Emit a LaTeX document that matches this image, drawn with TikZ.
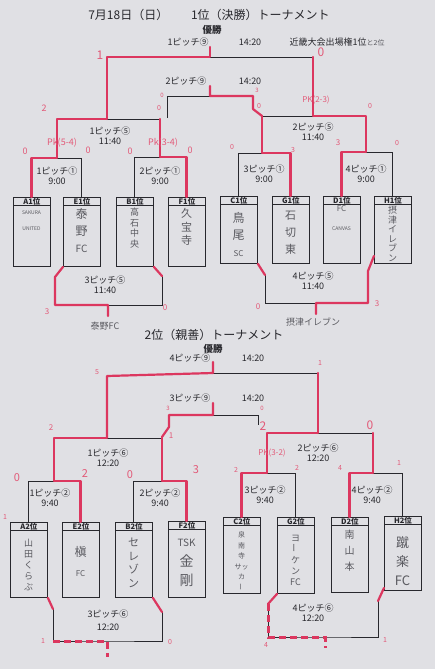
\documentclass[tikz,border=0pt]{standalone}
\usepackage{fontspec}
\setmainfont{Noto Sans CJK JP}
\usetikzlibrary{calc}
\definecolor{bg}{RGB}{224,224,228}
\definecolor{ink}{RGB}{40,40,45}
\definecolor{hred}{RGB}{220,55,95}
\definecolor{sred}{RGB}{226,90,120}
\definecolor{pencil}{RGB}{90,90,96}
\tikzset{
 bl/.style={draw=ink, line width=0.9pt},
 rl/.style={draw=hred, line width=2.2pt, line cap=round, line join=round},
 rdl/.style={draw=hred, line width=3pt, dash pattern=on 7pt off 4pt},
 tbox/.style={draw=ink, line width=0.9pt, minimum width=37pt, inner sep=0pt},
 hdr/.style={font=\fontsize{7.5}{8}\selectfont\bfseries, text=ink, inner sep=0.5pt, minimum height=8.5pt},
 mt/.style={font=\fontsize{9}{10}\selectfont, text=ink, inner sep=0.5pt, align=center},
 sc/.style={text=sred, inner sep=0.5pt},
 hw/.style={text=pencil, align=center, inner sep=0pt},
}
\newcommand\tbx[4]{%
 \node[tbox, minimum height=#3, anchor=north west] (#1) at (#2) {};
 \node[hdr, anchor=north] (#1h) at (#1.north) {#4};
 \draw[bl] (#1h.south -| #1.west) -- (#1h.south -| #1.east);}
\newcommand\vbar{\rotatebox{90}{ー}}
\begin{document}
\begin{tikzpicture}[x=1pt,y=-1pt]
\fill[bg] (0,0) rectangle (435,669);
\useasboundingbox (0,0) rectangle (435,669);

%% ================= TOP: 1st place tournament =================
\node[font=\fontsize{12}{13}\selectfont, text=ink] (title1) at (209,15) {7月18日（日）\hspace{1.9em}1位（決勝）トーナメント};
\node[font=\fontsize{9.5}{10}\selectfont\bfseries, text=ink] (win1) at (212,30) {優勝};
\node[mt] (p19) at (188,42) {1ピッチ⑨};
\node[mt] (t19) at (250,42) {14:20};
\node[mt, anchor=west] (kinki) at (289,42) {近畿大会出場権1位{\color{pencil}\fontsize{7}{8}\selectfont と2位}};
\node[mt] (p29) at (186,81) {2ピッチ⑨};
\node[mt] (t29) at (250,81) {14:20};

% boxes
\tbx{A1}{13,197}{69pt}{A1位}
\tbx{E1}{63,197}{69pt}{E1位}
\tbx{B1}{116,197}{69pt}{B1位}
\tbx{F1}{168,197}{69pt}{F1位}
\tbx{C1}{220,196}{67pt}{C1位}
\tbx{G1}{272,196}{67pt}{G1位}
\tbx{D1}{323,196}{67pt}{D1位}
\tbx{H1}{374,196}{67pt}{H1位}

% coordinates
\coordinate (fA) at (210,47); \coordinate (fB) at (210,57);
\coordinate (fL) at (107,57); \coordinate (fR) at (313,57);
\coordinate (sAc) at (107,119); \coordinate (sAl) at (57,119); \coordinate (sAr) at (160,119);
\coordinate (sBc) at (313,116); \coordinate (sBl) at (262,116); \coordinate (sBr) at (366,116);
\coordinate (gA) at (210,86); \coordinate (gB) at (210,96);
\coordinate (gL) at (167,96); \coordinate (gR) at (253,96);
\coordinate (gLb) at (167,118); \coordinate (gRb) at (253,109);
\coordinate (qAc) at (57,158); \coordinate (qAl) at (31.5,158); \coordinate (qAr) at (81.5,158);
\coordinate (qBc) at (160,157); \coordinate (qBl) at (134.5,157); \coordinate (qBr) at (186.5,157);
\coordinate (qCc) at (262,153); \coordinate (qCl) at (238.5,153); \coordinate (qCr) at (290.5,153);
\coordinate (qDc) at (366,152); \coordinate (qDl) at (341.5,152); \coordinate (qDr) at (392.5,152);

% final + third place
\draw[bl] (fB) -- (fR);
\draw[rl] (fA) -- (fB) -- (fL) -- (sAc);
\draw[rl] (fR) -- (sBc);
\draw[bl] (gL) -- (gB);
\draw[bl] (gL) -- (gLb);
\draw[rl] (gA) -- (gB) -- (gR) -- (gRb) -- (sBl);
% semis
\draw[bl] (sAc) -- (sAr);
\draw[rl] (sAc) -- (sAl) -- (qAc);
\draw[rl] (sAr) -- (qBc);
\draw[bl] (sBl) -- (sBc);
\draw[rl] (sBc) -- (sBr) -- (qDc);
\draw[rl] (sBl) -- (qCc);
% quarters
\draw[bl] (qAc) -- (qAr) -- (qAr |- E1.north);
\draw[rl] (qAc) -- (qAl) -- (qAl |- A1.north);
\draw[bl] (qBc) -- (qBl) -- (qBl |- B1.north);
\draw[rl] (qBc) -- (qBr) -- (qBr |- F1.north);
\draw[bl] (qCc) -- (qCl) -- (qCl |- C1.north);
\draw[rl] (qCc) -- (qCr) -- (qCr |- G1.north);
\draw[bl] (qDc) -- (qDr) -- (qDr |- H1.north);
\draw[rl] (qDc) -- (qDl) -- (qDl |- D1.north);

% lower matches
\coordinate (lAb) at (55,277); \coordinate (lAc) at (55,305); \coordinate (lAm) at (108,305);
\coordinate (lAd) at (162,305); \coordinate (lAe) at (162,276); \coordinate (lAo) at (108,316);
\draw[bl] (lAm) -- (lAd) -- (lAe);
\draw[rl] (E1.south west) -- (lAb) -- (lAc) -- (lAm) -- (lAo);
\draw[rl] (lAe) -- (B1.south east);
\coordinate (lBb) at (265,275); \coordinate (lBc) at (265,303); \coordinate (lBm) at (316,303);
\coordinate (lBd) at (368,303); \coordinate (lBe) at (368,271); \coordinate (lBo) at (316,314);
\draw[bl] (lBb) -- (lBc) -- (lBm);
\draw[rl] (C1.south east) -- (lBb);
\draw[rl] (lBo) -- (lBm) -- (lBd) -- (lBe) -- ($(H1.south west)+(0,-8)$);

% match texts
\node[mt] (mSA) at (110,136) {1ピッチ⑤\\11:40};
\node[mt] (mSB) at (313,132) {2ピッチ⑤\\11:40};
\node[mt] (mQA) at (57,176) {1ピッチ①\\9:00};
\node[mt] (mQB) at (160,176) {2ピッチ①\\9:00};
\node[mt] (mQC) at (264,174) {3ピッチ①\\9:00};
\node[mt] (mQD) at (366,174) {4ピッチ①\\9:00};
\node[mt] (mLA) at (105,285) {3ピッチ⑤\\11:40};
\node[mt] (mLB) at (313,281) {4ピッチ⑤\\11:40};

% handwritten team names
\node[hw, font=\fontsize{5}{16}\selectfont] (A1c) at (31.5,221) {SAKURA\\UNITED};
\node[hw, font=\fontsize{12}{17}\selectfont] (E1c) at (81.5,231) {泰\\野\\{\fontsize{10}{10}\selectfont FC}};
\node[hw, font=\fontsize{9}{10.5}\selectfont] (B1c) at (134.5,228) {高\\石\\中\\央};
\node[hw, font=\fontsize{11}{13.5}\selectfont] (F1c) at (186.5,227) {久\\宝\\寺};
\node[hw, font=\fontsize{12}{17}\selectfont] (C1c) at (238.5,234) {鳥\\尾\\{\fontsize{8}{8}\selectfont SC}};
\node[hw, font=\fontsize{11}{17}\selectfont] (G1c) at (290.5,233) {石\\切\\東};
\node[hw, font=\fontsize{8}{19}\selectfont] (D1c) at (341.5,218) {FC\\{\fontsize{5}{5}\selectfont CANVAS}};
\node[hw, font=\fontsize{9}{9.5}\selectfont] (H1c) at (392.5,234) {摂\\津\\イ\\レ\\ブ\\ン};
\node[hw, font=\fontsize{9}{10}\selectfont] (w1) at (105,326) {泰野FC};
\node[hw, font=\fontsize{9}{10}\selectfont] (w2) at (313,322) {摂津イレブン};

% red scores (top)
\node[sc, font=\fontsize{12}{12}\selectfont] (r1) at (100,55) {1};
\node[sc, font=\fontsize{12}{12}\selectfont] (r2) at (321,52) {0};
\node[sc, font=\fontsize{6}{6}\selectfont] (r3) at (162,95) {0};
\node[sc, font=\fontsize{7}{7}\selectfont] (r4) at (159,108) {0};
\node[sc, font=\fontsize{6}{6}\selectfont] (r5) at (257,90) {3};
\node[sc, font=\fontsize{7}{7}\selectfont] (r6) at (259,106) {0};
\node[sc, font=\fontsize{8}{8}\selectfont] (r7) at (316,100) {PK(2-3)};
\node[sc, font=\fontsize{7}{7}\selectfont] (r8) at (370,106) {0};
\node[sc, font=\fontsize{9}{9}\selectfont] (r9) at (44,108) {2};
\node[sc, font=\fontsize{9}{9}\selectfont] (r10) at (62,143) {Pk(5-4)};
\node[sc, font=\fontsize{9}{9}\selectfont] (r11) at (25,151) {0};
\node[sc, font=\fontsize{9}{9}\selectfont] (r12) at (88,150) {0};
\node[sc, font=\fontsize{9}{9}\selectfont] (r13) at (163,143) {Pk(3-4)};
\node[sc, font=\fontsize{9}{9}\selectfont] (r14) at (130,151) {0};
\node[sc, font=\fontsize{9}{9}\selectfont] (r15) at (190,150) {0};
\node[sc, font=\fontsize{7}{7}\selectfont] (r16) at (232,147) {0};
\node[sc, font=\fontsize{7}{7}\selectfont] (r17) at (293,150) {3};
\node[sc, font=\fontsize{8}{8}\selectfont] (r18) at (338,143) {3};
\node[sc, font=\fontsize{7}{7}\selectfont] (r19) at (397,143) {0};
\node[sc, font=\fontsize{8}{8}\selectfont] (r20) at (47,312) {3};
\node[sc, font=\fontsize{8}{8}\selectfont] (r21) at (165,308) {0};
\node[sc, font=\fontsize{8}{8}\selectfont] (r22) at (258,307) {0};
\node[sc, font=\fontsize{8}{8}\selectfont] (r23) at (377,304) {3};

%% ================= BOTTOM: 2nd place tournament =================
\node[font=\fontsize{12}{13}\selectfont, text=ink] (title2) at (214,335) {2位（親善）トーナメント};
\node[font=\fontsize{9.5}{10}\selectfont\bfseries, text=ink] (win2) at (213,349) {優勝};
\node[mt] (p49) at (190,358) {4ピッチ⑨};
\node[mt] (t49) at (253,358) {14:20};
\node[mt] (p39) at (190,398) {3ピッチ⑨};
\node[mt] (t39) at (253,398) {14:20};

\tbx{A2}{10,522}{75pt}{A2位}
\tbx{E2}{62,522}{75pt}{E2位}
\tbx{B2}{115,522}{75pt}{B2位}
\tbx{F2}{168,521}{76pt}{F2位}
\tbx{C2}{223,517}{76pt}{C2位}
\tbx{G2}{277,517}{76pt}{G2位}
\tbx{D2}{331,517}{75pt}{D2位}
\tbx{H2}{384,516}{74pt}{H2位}

\coordinate (hA) at (213,362); \coordinate (hB) at (213,373);
\coordinate (hL) at (107,376); \coordinate (hR) at (318,373);
\coordinate (sCc) at (107,438); \coordinate (sCl) at (54,438); \coordinate (sCr) at (162,438);
\coordinate (sDc) at (318,433); \coordinate (sDl) at (267,433); \coordinate (sDr) at (373,433);
\coordinate (iA) at (213,403); \coordinate (iB) at (213,415);
\coordinate (iL) at (169,415); \coordinate (iR) at (258,415);
\coordinate (iLb) at (169,427); \coordinate (iLc) at (162,437); \coordinate (iRb) at (258,425);
\coordinate (qEc) at (54,481); \coordinate (qEl) at (28.5,481); \coordinate (qEr) at (80.5,481);
\coordinate (qFc) at (162,481); \coordinate (qFl) at (133.5,481); \coordinate (qFr) at (186.5,481);
\coordinate (qGc) at (267,473); \coordinate (qGl) at (241.5,473); \coordinate (qGr) at (295.5,473);
\coordinate (qHc) at (373,473); \coordinate (qHl) at (349.5,473); \coordinate (qHr) at (402.5,473);

\draw[bl] (hB) -- (hR);
\draw[rl] (hA) -- (hB) -- (hL) -- (sCc);
\draw[rl] (hR) -- (sDc);
\draw[bl] (iB) -- (iR) -- (iRb);
\draw[rl] (iA) -- (iB) -- (iL) -- (iLb) -- (iLc);
\draw[bl] (sCc) -- (sCr);
\draw[rl] (sCc) -- (sCl) -- (qEc);
\draw[rl] (sCr) -- (qFc);
\draw[bl] (sDc) -- (sDr);
\draw[rl] (sDc) -- (sDl) -- (qGc);
\draw[rl] (sDr) -- (qHc);
\draw[bl] (qEc) -- (qEl) -- (qEl |- A2.north);
\draw[rl] (qEc) -- (qEr) -- (qEr |- E2.north);
\draw[bl] (qFc) -- (qFl) -- (qFl |- B2.north);
\draw[rl] (qFc) -- (qFr) -- (qFr |- F2.north);
\draw[bl] (qGc) -- (qGr) -- (qGr |- G2.north);
\draw[rl] (qGc) -- (qGl) -- (qGl |- C2.north);
\draw[bl] (qHc) -- (qHr) -- (qHr |- H2.north);
\draw[rl] (qHc) -- (qHl) -- (qHl |- D2.north);

\coordinate (mb) at (53,609); \coordinate (mc) at (53,641); \coordinate (mm) at (107,641);
\coordinate (md) at (162,641); \coordinate (me) at (162,612); \coordinate (mo) at (107,657);
\draw[bl] (mb) -- (mc) -- (mm) -- (md) -- (me);
\draw[rl] (A2.south east) -- (mb);
\draw[rdl] (mc) -- (mm) -- (mo);
\draw[rl] (me) -- (B2.south east);
\coordinate (nb) at (268,604); \coordinate (nc) at (268,637); \coordinate (nm) at (325,637);
\coordinate (nd) at (378,637); \coordinate (ne) at (378,601); \coordinate (no) at (325,648);
\draw[bl] (nb) -- (nc) -- (nm) -- (nd) -- (ne);
\draw[rl] (G2.south west) -- (nb);
\draw[rdl] (nb) -- (nc) -- (nm) -- (no);
\draw[rl] (ne) -- ($(H2.south west)+(0,-3)$);

\node[mt] (mSC) at (108,458) {1ピッチ⑥\\12:20};
\node[mt] (mSD) at (318,453) {2ピッチ⑥\\12:20};
\node[mt] (mQE) at (50,498) {1ピッチ②\\9:40};
\node[mt] (mQF) at (160,498) {2ピッチ②\\9:40};
\node[mt] (mQG) at (265,495) {3ピッチ②\\9:40};
\node[mt] (mQH) at (372,495) {4ピッチ②\\9:40};
\node[mt, font=\fontsize{9}{13}\selectfont] (mLC) at (108,620) {3ピッチ⑥\\12:20};
\node[mt] (mLD) at (313,613) {4ピッチ⑥\\12:20};

\node[hw, font=\fontsize{9}{11}\selectfont] (A2c) at (28.5,565) {山\\田\\く\\ら\\ぶ};
\node[hw, font=\fontsize{12}{20}\selectfont] (E2c) at (80.5,562) {槇\\{\fontsize{8}{8}\selectfont FC}};
\node[hw, font=\fontsize{11}{13.5}\selectfont] (B2c) at (133.5,563) {セ\\レ\\ゾ\\ン};
\node[hw, font=\fontsize{14}{19.5}\selectfont] (F2c) at (186.5,563) {{\fontsize{10}{10}\selectfont TSK}\\金\\剛};
\node[hw, font=\fontsize{7}{10.5}\selectfont] (C2c) at (241.5,561) {泉\\南\\寺\\サッ\\カ\\\vbar};
\node[hw, font=\fontsize{9}{11}\selectfont] (G2c) at (295.5,560) {ヨ\\\vbar\\ケ\\ン\\FC};
\node[hw, font=\fontsize{10}{16}\selectfont] (D2c) at (349.5,551) {南\\山\\本};
\node[hw, font=\fontsize{13}{19}\selectfont] (H2c) at (402.5,561) {蹴\\楽\\FC};

\node[sc, font=\fontsize{7}{7}\selectfont] (r24) at (97,372) {5};
\node[sc, font=\fontsize{7}{7}\selectfont] (r25) at (320,363) {1};
\node[sc, font=\fontsize{6}{6}\selectfont] (r26) at (168,408) {3};
\node[sc, font=\fontsize{6}{6}\selectfont] (r27) at (262,408) {0};
\node[sc, font=\fontsize{8}{8}\selectfont] (r28) at (51,428) {2};
\node[sc, font=\fontsize{8}{8}\selectfont] (r29) at (171,436) {1};
\node[sc, font=\fontsize{12}{12}\selectfont] (r30) at (263,426) {2};
\node[sc, font=\fontsize{12}{12}\selectfont] (r31) at (370,425) {0};
\node[sc, font=\fontsize{8}{8}\selectfont] (r32) at (272,453) {PK(3-2)};
\node[sc, font=\fontsize{11}{11}\selectfont] (r33) at (17,478) {0};
\node[sc, font=\fontsize{11}{11}\selectfont] (r34) at (85,474) {2};
\node[sc, font=\fontsize{11}{11}\selectfont] (r35) at (130,475) {0};
\node[sc, font=\fontsize{11}{11}\selectfont] (r36) at (196,470) {3};
\node[sc, font=\fontsize{7}{7}\selectfont] (r37) at (5,517) {1};
\node[sc, font=\fontsize{7}{7}\selectfont] (r38) at (236,470) {2};
\node[sc, font=\fontsize{7}{7}\selectfont] (r39) at (297,468) {2};
\node[sc, font=\fontsize{7}{7}\selectfont] (r40) at (340,468) {4};
\node[sc, font=\fontsize{7}{7}\selectfont] (r41) at (399,463) {1};
\node[sc, font=\fontsize{7}{7}\selectfont] (r42) at (43,641) {1};
\node[sc, font=\fontsize{7}{7}\selectfont] (r43) at (170,642) {0};
\node[sc, font=\fontsize{7}{7}\selectfont] (r44) at (266,645) {4};
\node[sc, font=\fontsize{7}{7}\selectfont] (r45) at (385,640) {1};
\end{tikzpicture}
\end{document}
